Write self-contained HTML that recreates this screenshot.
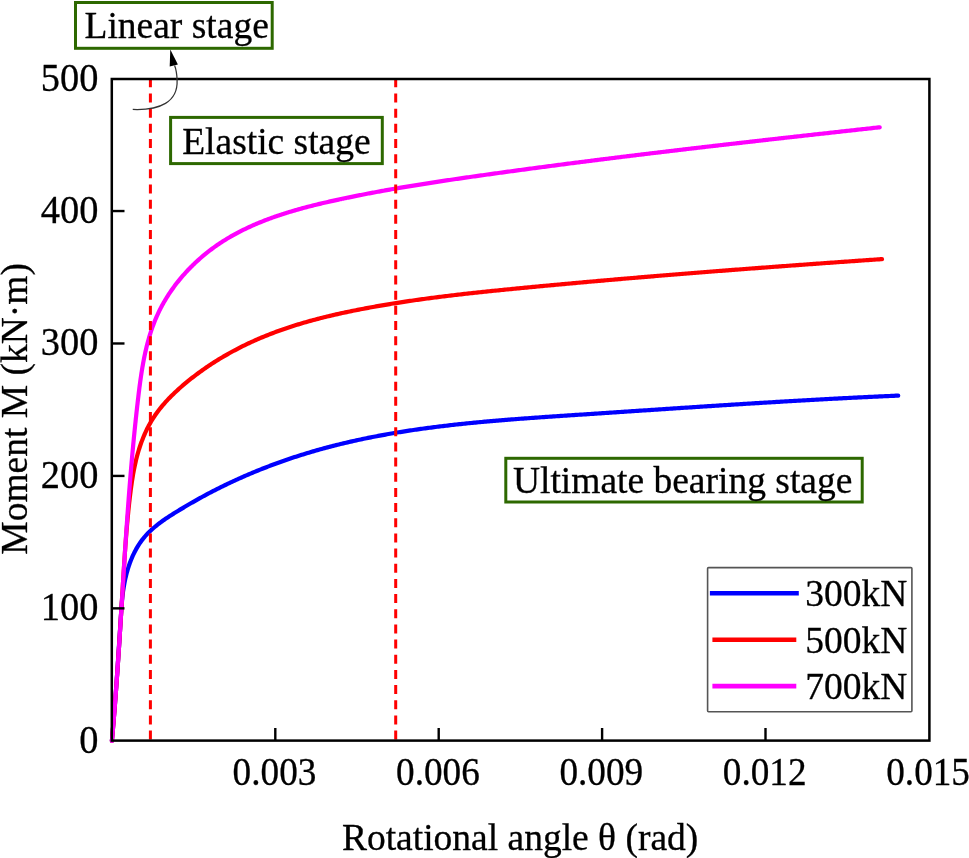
<!DOCTYPE html>
<html><head><meta charset="utf-8"><style>
html,body{margin:0;padding:0;background:#fff;overflow:hidden}
svg{display:block;will-change:transform}
.t{font-family:"Liberation Serif",serif;font-size:37.5px;fill:#000;stroke:#000;stroke-width:0.3px}
.n{font-family:"Liberation Serif",serif;font-size:39px;fill:#000;stroke:#000;stroke-width:0.3px}
</style></head><body>
<svg width="969" height="858" viewBox="0 0 969 858">
<rect x="0" y="0" width="969" height="858" fill="#fff"/>
<path d="M111.89,740.80 L112.00,739.60 L112.11,738.40 L112.22,737.19 L112.32,735.99 L112.43,734.79 L112.53,733.59 L112.64,732.39 L112.74,731.19 L112.85,729.99 L112.95,728.78 L113.05,727.58 L113.15,726.38 L113.26,725.18 L113.36,723.98 L113.46,722.78 L113.56,721.58 L113.66,720.38 L113.76,719.18 L113.85,717.98 L113.95,716.78 L114.05,715.58 L114.15,714.38 L114.24,713.18 L114.34,711.98 L114.44,710.78 L114.53,709.58 L114.63,708.38 L114.72,707.18 L114.81,705.98 L114.91,704.78 L115.00,703.59 L115.09,702.39 L115.18,701.19 L115.28,699.99 L115.37,698.79 L115.46,697.59 L115.55,696.39 L115.64,695.20 L115.73,694.00 L115.82,692.80 L115.91,691.60 L116.00,690.40 L116.08,689.21 L116.17,688.01 L116.26,686.81 L116.35,685.61 L116.43,684.42 L116.52,683.22 L116.61,682.02 L116.69,680.82 L116.78,679.63 L116.86,678.43 L116.97,676.83 L117.09,675.24 L117.20,673.64 L117.31,672.05 L117.42,670.45 L117.53,668.86 L117.64,667.26 L117.75,665.67 L117.86,664.07 L117.96,662.48 L118.07,660.88 L118.18,659.29 L118.29,657.69 L118.39,656.10 L118.50,654.51 L118.60,652.91 L118.71,651.32 L118.81,649.72 L118.92,648.13 L119.02,646.54 L119.13,644.94 L119.23,643.35 L119.33,641.76 L119.43,640.16 L119.54,638.57 L119.64,636.98 L119.74,635.38 L119.84,633.79 L119.94,632.20 L120.04,630.61 L120.14,629.01 L120.24,627.42 L120.34,625.83 L120.44,624.24 L120.54,622.64 L120.64,621.05 L120.74,619.46 L120.84,617.87 L120.94,616.27 L121.04,614.68 L121.14,613.09 L121.24,611.50 L121.34,609.91 L121.44,608.31 L121.53,606.72 L116.44,684.42 L116.54,682.93 L116.64,681.44 L116.74,679.95 L116.84,678.47 L116.94,676.98 L117.05,675.49 L117.15,674.00 L117.25,672.51 L117.36,671.03 L117.46,669.54 L117.57,668.05 L117.67,666.56 L117.78,665.07 L117.88,663.58 L117.99,662.09 L118.09,660.61 L118.19,659.12 L118.30,657.63 L118.40,656.14 L118.50,654.65 L118.61,653.16 L118.71,651.67 L118.81,650.18 L118.91,648.69 L119.01,647.20 L119.10,645.71 L119.20,644.23 L119.30,642.74 L119.39,641.25 L119.49,639.76 L119.58,638.27 L119.67,636.78 L119.76,635.29 L119.85,633.81 L119.94,632.32 L120.02,630.83 L120.11,629.34 L120.19,627.86 L120.28,626.37 L120.37,624.88 L120.45,623.39 L120.54,621.90 L120.63,620.42 L120.72,618.93 L120.81,617.44 L120.91,615.95 L121.00,614.46 L121.10,612.97 L121.20,611.48 L121.30,609.99 L121.41,608.50 L121.52,607.01 L121.63,605.52 L121.75,604.03 L121.87,602.54 L122.00,601.04 L122.14,599.55 L122.29,598.05 L122.45,596.55 L122.62,595.06 L122.81,593.56 L123.00,592.06 L123.21,590.56 L123.43,589.07 L123.67,587.57 L123.91,586.08 L124.18,584.59 L124.45,583.10 L124.74,581.62 L125.04,580.14 L125.36,578.66 L125.70,577.19 L126.05,575.73 L126.41,574.27 L126.79,572.81 L127.19,571.36 L127.60,569.92 L128.03,568.49 L128.48,567.06 L128.95,565.64 L129.43,564.23 L129.93,562.83 L130.45,561.44 L130.99,560.06 L131.55,558.68 L132.12,557.32 L132.72,555.97 L133.34,554.64 L133.97,553.31 L134.63,551.99 L135.31,550.69 L136.00,549.41 L136.73,548.13 L137.47,546.87 L138.23,545.63 L139.02,544.40 L139.83,543.18 L140.66,541.98 L141.51,540.80 L142.39,539.64 L143.29,538.49 L144.22,537.36 L145.17,536.25 L146.15,535.15 L147.14,534.07 L148.16,533.01 L149.21,531.97 L150.27,530.95 L151.35,529.93 L152.45,528.94 L153.57,527.96 L154.71,526.99 L155.86,526.04 L157.03,525.10 L158.21,524.17 L159.40,523.26 L160.61,522.35 L161.83,521.46 L163.06,520.58 L164.30,519.71 L165.55,518.85 L166.81,518.00 L168.07,517.16 L169.35,516.32 L170.62,515.50 L171.91,514.68 L173.19,513.87 L174.48,513.06 L175.77,512.27 L177.06,511.47 L178.36,510.68 L179.65,509.90 L180.94,509.12 L182.23,508.35 L183.52,507.58 L184.81,506.81 L186.10,506.05 L187.39,505.29 L188.67,504.54 L189.96,503.79 L191.25,503.05 L192.54,502.31 L193.83,501.57 L195.13,500.84 L196.42,500.11 L197.71,499.38 L199.00,498.66 L200.30,497.94 L201.60,497.23 L202.90,496.52 L204.20,495.81 L205.50,495.11 L206.80,494.41 L208.11,493.72 L209.42,493.02 L210.73,492.34 L212.05,491.65 L213.36,490.97 L214.68,490.29 L216.01,489.62 L217.33,488.95 L218.66,488.28 L219.99,487.62 L221.32,486.96 L222.65,486.30 L223.99,485.65 L225.33,485.00 L226.67,484.35 L228.01,483.71 L229.36,483.07 L230.70,482.43 L232.05,481.80 L233.40,481.17 L234.76,480.55 L236.11,479.92 L237.47,479.31 L238.83,478.69 L240.19,478.08 L241.56,477.48 L242.92,476.87 L244.29,476.27 L245.66,475.68 L247.03,475.08 L248.41,474.49 L249.78,473.91 L251.16,473.33 L252.54,472.75 L253.92,472.17 L255.30,471.60 L256.69,471.04 L258.07,470.47 L259.46,469.91 L260.85,469.36 L262.24,468.80 L263.63,468.25 L265.02,467.71 L266.42,467.17 L267.82,466.63 L269.21,466.09 L270.61,465.56 L272.01,465.04 L273.42,464.51 L274.82,463.99 L276.22,463.48 L277.63,462.97 L279.04,462.46 L280.44,461.95 L281.85,461.45 L283.27,460.95 L284.68,460.46 L286.09,459.97 L287.50,459.48 L288.92,459.00 L290.34,458.52 L291.75,458.05 L293.17,457.58 L294.59,457.11 L296.01,456.64 L297.43,456.18 L298.85,455.73 L300.28,455.28 L301.70,454.83 L303.13,454.38 L304.55,453.94 L305.98,453.50 L307.40,453.07 L308.83,452.64 L310.26,452.21 L311.69,451.79 L313.12,451.37 L314.55,450.96 L315.98,450.54 L317.41,450.13 L318.85,449.73 L320.28,449.33 L321.72,448.93 L323.15,448.54 L324.59,448.14 L326.03,447.76 L327.46,447.37 L328.90,446.99 L330.34,446.61 L331.78,446.24 L333.22,445.87 L334.66,445.50 L336.11,445.14 L337.55,444.78 L338.99,444.42 L340.44,444.06 L341.88,443.71 L343.33,443.36 L344.77,443.02 L346.22,442.68 L347.67,442.34 L349.12,442.00 L350.56,441.67 L352.01,441.34 L353.46,441.01 L354.91,440.69 L356.37,440.37 L357.82,440.05 L359.27,439.74 L360.72,439.43 L362.18,439.12 L363.63,438.81 L365.09,438.51 L366.54,438.21 L368.00,437.91 L369.46,437.62 L370.92,437.33 L372.37,437.04 L373.83,436.75 L375.29,436.47 L376.75,436.19 L378.21,435.91 L379.67,435.64 L381.13,435.37 L382.60,435.10 L384.06,434.83 L385.52,434.56 L386.99,434.30 L388.45,434.04 L389.92,433.79 L391.38,433.53 L392.85,433.28 L394.31,433.03 L395.78,432.78 L397.25,432.54 L398.72,432.30 L400.18,432.06 L401.65,431.82 L403.12,431.59 L404.59,431.35 L406.06,431.12 L407.53,430.90 L409.00,430.67 L410.48,430.45 L411.95,430.23 L413.42,430.01 L414.89,429.79 L416.37,429.58 L417.84,429.36 L419.32,429.15 L420.79,428.94 L422.27,428.74 L423.74,428.53 L425.22,428.33 L426.69,428.13 L428.17,427.93 L429.65,427.74 L431.13,427.55 L432.60,427.35 L434.08,427.16 L435.56,426.98 L437.04,426.79 L438.52,426.60 L440.00,426.42 L441.48,426.24 L442.96,426.06 L444.44,425.89 L445.92,425.71 L447.40,425.54 L448.89,425.37 L450.37,425.20 L451.85,425.03 L453.33,424.86 L454.82,424.70 L456.30,424.53 L457.78,424.37 L459.27,424.21 L460.75,424.05 L462.24,423.90 L463.72,423.74 L465.21,423.59 L466.69,423.43 L468.18,423.28 L469.66,423.13 L471.15,422.98 L472.64,422.84 L474.12,422.69 L475.61,422.55 L477.10,422.41 L478.58,422.26 L480.07,422.12 L481.56,421.99 L483.05,421.85 L484.54,421.71 L486.02,421.58 L487.51,421.44 L489.00,421.31 L490.49,421.18 L491.98,421.05 L493.47,420.92 L494.96,420.79 L496.45,420.67 L497.94,420.54 L499.43,420.42 L500.92,420.29 L502.41,420.17 L503.90,420.05 L505.39,419.93 L506.88,419.81 L508.37,419.69 L509.86,419.57 L511.36,419.45 L512.85,419.34 L514.34,419.22 L515.83,419.11 L517.32,418.99 L518.81,418.88 L520.30,418.77 L521.80,418.66 L523.29,418.55 L524.78,418.44 L526.27,418.33 L527.76,418.22 L529.26,418.11 L530.75,418.00 L532.24,417.90 L533.73,417.79 L535.23,417.68 L536.72,417.58 L538.21,417.47 L539.70,417.37 L541.20,417.27 L542.69,417.16 L544.18,417.06 L545.67,416.96 L547.17,416.86 L548.66,416.75 L550.15,416.65 L551.64,416.55 L553.14,416.45 L554.63,416.35 L556.12,416.25 L557.61,416.15 L559.11,416.05 L560.60,415.95 L562.09,415.85 L563.58,415.76 L565.08,415.66 L566.57,415.56 L568.06,415.46 L569.55,415.36 L571.04,415.26 L572.54,415.17 L574.03,415.07 L575.52,414.97 L577.01,414.87 L578.50,414.77 L579.99,414.68 L581.49,414.58 L582.98,414.48 L584.47,414.38 L585.96,414.28 L587.45,414.18 L588.94,414.09 L590.43,413.99 L591.92,413.89 L593.41,413.79 L594.90,413.69 L596.39,413.59 L597.88,413.49 L599.37,413.40 L600.86,413.30 L602.35,413.20 L603.84,413.10 L605.33,413.00 L606.82,412.90 L608.31,412.80 L609.80,412.70 L611.29,412.60 L612.78,412.51 L614.27,412.41 L615.76,412.31 L617.25,412.21 L618.74,412.11 L620.22,412.01 L621.71,411.91 L623.20,411.81 L624.69,411.71 L626.18,411.61 L627.67,411.51 L629.15,411.42 L630.64,411.32 L632.13,411.22 L633.62,411.12 L635.11,411.02 L636.60,410.92 L638.08,410.82 L639.57,410.72 L641.06,410.62 L642.55,410.52 L644.03,410.43 L645.52,410.33 L647.01,410.23 L648.50,410.13 L649.98,410.03 L651.47,409.93 L652.96,409.83 L654.45,409.73 L655.93,409.64 L657.42,409.54 L658.91,409.44 L660.40,409.34 L661.88,409.24 L663.37,409.14 L664.86,409.04 L666.34,408.95 L667.83,408.85 L669.32,408.75 L670.80,408.65 L672.29,408.55 L673.78,408.45 L675.26,408.36 L676.75,408.26 L678.24,408.16 L679.72,408.06 L681.21,407.97 L682.70,407.87 L684.18,407.77 L685.67,407.67 L687.16,407.58 L688.64,407.48 L690.13,407.38 L691.62,407.28 L693.10,407.19 L694.59,407.09 L696.07,406.99 L697.56,406.90 L699.05,406.80 L700.53,406.70 L702.02,406.61 L703.51,406.51 L704.99,406.41 L706.48,406.32 L707.96,406.22 L709.45,406.13 L710.94,406.03 L712.42,405.94 L713.91,405.84 L715.40,405.74 L716.88,405.65 L718.37,405.55 L719.85,405.46 L721.34,405.36 L722.83,405.27 L724.31,405.17 L725.80,405.08 L727.28,404.99 L728.77,404.89 L730.26,404.80 L731.74,404.70 L733.23,404.61 L734.72,404.52 L736.20,404.42 L737.69,404.33 L739.17,404.24 L740.66,404.14 L742.15,404.05 L743.63,403.96 L745.12,403.86 L746.61,403.77 L748.09,403.68 L749.58,403.59 L751.07,403.50 L752.55,403.40 L754.04,403.31 L755.53,403.22 L757.01,403.13 L758.50,403.04 L759.99,402.95 L761.47,402.86 L762.96,402.77 L764.45,402.68 L765.93,402.59 L767.42,402.50 L768.91,402.41 L770.39,402.32 L771.88,402.23 L773.37,402.14 L774.86,402.05 L776.34,401.96 L777.83,401.87 L779.32,401.79 L780.80,401.70 L782.29,401.61 L783.78,401.52 L785.27,401.44 L786.75,401.35 L788.24,401.26 L789.73,401.17 L791.22,401.09 L792.71,401.00 L794.19,400.92 L795.68,400.83 L797.17,400.74 L798.66,400.66 L800.15,400.57 L801.63,400.49 L803.12,400.40 L804.61,400.32 L806.10,400.24 L807.59,400.15 L809.08,400.07 L810.56,399.99 L812.05,399.90 L813.54,399.82 L815.03,399.74 L816.52,399.65 L818.01,399.57 L819.50,399.49 L820.99,399.41 L822.48,399.33 L823.97,399.25 L825.46,399.17 L826.94,399.09 L828.43,399.01 L829.92,398.93 L831.41,398.85 L832.90,398.77 L834.39,398.69 L835.88,398.61 L837.37,398.53 L838.87,398.45 L840.36,398.37 L841.85,398.30 L843.34,398.22 L844.83,398.14 L846.32,398.07 L847.81,397.99 L849.30,397.91 L850.79,397.84 L852.28,397.76 L853.77,397.69 L855.27,397.61 L856.76,397.54 L858.25,397.46 L859.74,397.39 L861.23,397.32 L862.73,397.24 L864.22,397.17 L865.71,397.10 L867.20,397.03 L868.69,396.95 L870.19,396.88 L871.68,396.81 L873.17,396.74 L874.67,396.67 L876.16,396.60 L877.65,396.53 L879.15,396.46 L880.64,396.39 L882.13,396.32 L883.63,396.25 L885.12,396.18 L886.62,396.12 L888.11,396.05 L889.61,395.98 L891.10,395.92 L892.59,395.85 L894.09,395.78 L895.58,395.72 L897.08,395.65 L898.20,395.60" fill="none" stroke="#0000ff" stroke-width="4.2" stroke-linecap="round" stroke-linejoin="round"/>
<path d="M111.89,740.80 L112.00,739.60 L112.11,738.40 L112.22,737.19 L112.32,735.99 L112.43,734.79 L112.53,733.59 L112.64,732.39 L112.74,731.19 L112.85,729.99 L112.95,728.78 L113.05,727.58 L113.15,726.38 L113.26,725.18 L113.36,723.98 L113.46,722.78 L113.56,721.58 L113.66,720.38 L113.76,719.18 L113.85,717.98 L113.95,716.78 L114.05,715.58 L114.15,714.38 L114.24,713.18 L114.34,711.98 L114.44,710.78 L114.53,709.58 L114.63,708.38 L114.72,707.18 L114.81,705.98 L114.91,704.78 L115.00,703.59 L115.09,702.39 L115.18,701.19 L115.28,699.99 L115.37,698.79 L115.46,697.59 L115.55,696.39 L115.64,695.20 L115.73,694.00 L115.82,692.80 L115.91,691.60 L116.00,690.40 L116.08,689.21 L116.17,688.01 L116.26,686.81 L116.35,685.61 L116.43,684.42 L116.52,683.22 L116.61,682.02 L116.69,680.82 L116.78,679.63 L116.86,678.43 L116.97,676.83 L117.09,675.24 L117.20,673.64 L117.31,672.05 L117.42,670.45 L117.53,668.86 L117.64,667.26 L117.75,665.67 L117.86,664.07 L117.96,662.48 L118.07,660.88 L118.18,659.29 L118.29,657.69 L118.39,656.10 L118.50,654.51 L118.60,652.91 L118.71,651.32 L118.81,649.72 L118.92,648.13 L119.02,646.54 L119.13,644.94 L119.23,643.35 L119.33,641.76 L119.43,640.16 L119.54,638.57 L119.64,636.98 L119.74,635.38 L119.84,633.79 L119.94,632.20 L120.04,630.61 L120.14,629.01 L120.24,627.42 L120.34,625.83 L120.44,624.24 L120.54,622.64 L120.64,621.05 L120.74,619.46 L120.84,617.87 L120.94,616.27 L121.04,614.68 L121.14,613.09 L121.24,611.50 L121.34,609.91 L121.44,608.31 L121.53,606.72 L121.63,605.13 L121.73,603.54 L121.83,601.95 L121.93,600.36 L122.03,598.76 L122.12,597.17 L122.22,595.58 L122.32,593.99 L122.42,592.40 L122.52,590.81 L122.62,589.21 L122.71,587.62 L122.81,586.03 L122.91,584.44 L123.01,582.85 L123.11,581.26 L123.21,579.67 L123.31,578.07 L123.41,576.48 L123.51,574.89 L123.60,573.30 L123.70,571.71 L123.80,570.12 L123.90,568.53 L124.00,566.93 L124.11,565.34 L124.21,563.75 L124.31,562.16 L124.41,560.57 L124.51,558.98 L124.61,557.38 L124.71,555.79 L124.82,554.20 L124.92,552.61 L125.02,551.02 L125.13,549.43 L120.23,627.42 L120.34,625.86 L120.44,624.30 L120.54,622.73 L120.65,621.17 L120.75,619.61 L120.85,618.05 L120.95,616.49 L121.05,614.92 L121.14,613.36 L121.24,611.80 L121.34,610.24 L121.43,608.67 L121.53,607.11 L121.63,605.55 L121.72,603.99 L121.82,602.42 L121.91,600.86 L122.01,599.30 L122.10,597.73 L122.19,596.17 L122.29,594.61 L122.38,593.05 L122.47,591.48 L122.57,589.92 L122.66,588.36 L122.76,586.80 L122.85,585.23 L122.94,583.67 L123.04,582.11 L123.13,580.54 L123.23,578.98 L123.32,577.42 L123.42,575.86 L123.52,574.29 L123.61,572.73 L123.71,571.17 L123.81,569.61 L123.91,568.04 L124.01,566.48 L124.11,564.92 L124.21,563.36 L124.31,561.80 L124.41,560.23 L124.52,558.67 L124.62,557.11 L124.73,555.55 L124.83,553.99 L124.94,552.43 L125.05,550.86 L125.16,549.30 L125.27,547.74 L125.38,546.18 L125.50,544.62 L125.61,543.06 L125.73,541.50 L125.85,539.94 L125.96,538.38 L126.09,536.82 L126.21,535.26 L126.33,533.70 L126.46,532.14 L126.59,530.58 L126.72,529.02 L126.85,527.46 L126.98,525.90 L127.11,524.34 L127.25,522.78 L127.39,521.23 L127.53,519.67 L127.67,518.11 L127.82,516.55 L127.97,514.99 L128.12,513.44 L128.27,511.88 L128.42,510.32 L128.58,508.76 L128.74,507.21 L128.91,505.65 L129.07,504.09 L129.24,502.53 L129.42,500.98 L129.60,499.42 L129.78,497.86 L129.96,496.31 L130.15,494.75 L130.35,493.19 L130.54,491.63 L130.74,490.07 L130.95,488.52 L131.16,486.96 L131.38,485.40 L131.60,483.84 L131.83,482.29 L132.06,480.73 L132.31,479.17 L132.56,477.62 L132.81,476.07 L133.08,474.51 L133.36,472.96 L133.64,471.41 L133.93,469.86 L134.24,468.32 L134.55,466.78 L134.88,465.23 L135.22,463.69 L135.57,462.16 L135.93,460.63 L136.30,459.10 L136.69,457.57 L137.09,456.05 L137.50,454.53 L137.92,453.01 L138.36,451.51 L138.81,450.00 L139.28,448.50 L139.76,447.01 L140.26,445.53 L140.77,444.05 L141.29,442.57 L141.83,441.11 L142.39,439.65 L142.96,438.20 L143.54,436.76 L144.15,435.32 L144.77,433.90 L145.40,432.48 L146.06,431.07 L146.73,429.67 L147.41,428.28 L148.12,426.91 L148.84,425.54 L149.58,424.18 L150.34,422.84 L151.12,421.50 L151.91,420.18 L152.73,418.87 L153.56,417.57 L154.41,416.29 L155.28,415.01 L156.17,413.75 L157.07,412.50 L157.99,411.26 L158.93,410.03 L159.88,408.81 L160.85,407.60 L161.83,406.41 L162.83,405.22 L163.84,404.04 L164.86,402.88 L165.90,401.72 L166.95,400.57 L168.02,399.43 L169.09,398.31 L170.18,397.19 L171.28,396.08 L172.39,394.98 L173.51,393.89 L174.64,392.81 L175.78,391.73 L176.93,390.67 L178.09,389.61 L179.25,388.56 L180.43,387.52 L181.61,386.48 L182.80,385.46 L183.99,384.44 L185.20,383.43 L186.41,382.42 L187.62,381.43 L188.84,380.44 L190.07,379.46 L191.30,378.48 L192.54,377.51 L193.78,376.55 L195.03,375.60 L196.28,374.65 L197.54,373.71 L198.80,372.78 L200.07,371.85 L201.35,370.93 L202.63,370.02 L203.92,369.12 L205.21,368.22 L206.50,367.33 L207.80,366.45 L209.11,365.57 L210.42,364.70 L211.73,363.84 L213.05,362.99 L214.37,362.14 L215.70,361.30 L217.03,360.47 L218.37,359.64 L219.71,358.82 L221.06,358.01 L222.41,357.21 L223.76,356.41 L225.12,355.62 L226.48,354.84 L227.84,354.06 L229.21,353.29 L230.59,352.53 L231.96,351.77 L233.34,351.02 L234.73,350.28 L236.11,349.55 L237.51,348.82 L238.90,348.10 L240.30,347.39 L241.70,346.68 L243.10,345.98 L244.51,345.29 L245.92,344.61 L247.33,343.93 L248.75,343.26 L250.17,342.60 L251.59,341.94 L253.02,341.29 L254.44,340.65 L255.87,340.01 L257.30,339.38 L258.74,338.76 L260.18,338.15 L261.62,337.54 L263.06,336.94 L264.50,336.35 L265.95,335.76 L267.40,335.18 L268.85,334.60 L270.31,334.03 L271.76,333.47 L273.22,332.92 L274.68,332.37 L276.15,331.82 L277.61,331.29 L279.08,330.76 L280.55,330.23 L282.02,329.71 L283.49,329.20 L284.97,328.69 L286.44,328.19 L287.92,327.69 L289.40,327.20 L290.89,326.72 L292.37,326.24 L293.86,325.76 L295.35,325.29 L296.84,324.83 L298.33,324.37 L299.82,323.92 L301.32,323.47 L302.81,323.03 L304.31,322.59 L305.81,322.16 L307.31,321.73 L308.82,321.30 L310.32,320.88 L311.83,320.47 L313.33,320.06 L314.84,319.66 L316.35,319.25 L317.86,318.86 L319.38,318.47 L320.89,318.08 L322.41,317.70 L323.92,317.32 L325.44,316.94 L326.96,316.57 L328.48,316.20 L330.00,315.84 L331.52,315.48 L333.04,315.12 L334.57,314.77 L336.09,314.42 L337.62,314.08 L339.14,313.73 L340.67,313.40 L342.20,313.06 L343.73,312.73 L345.26,312.40 L346.79,312.08 L348.32,311.75 L349.85,311.44 L351.39,311.12 L352.92,310.81 L354.45,310.50 L355.99,310.19 L357.52,309.88 L359.06,309.58 L360.59,309.28 L362.13,308.99 L363.67,308.69 L365.20,308.40 L366.74,308.11 L368.28,307.82 L369.82,307.54 L371.36,307.26 L372.90,306.98 L374.44,306.70 L375.98,306.43 L377.52,306.15 L379.06,305.88 L380.60,305.62 L382.14,305.35 L383.68,305.09 L385.23,304.83 L386.77,304.57 L388.31,304.31 L389.86,304.06 L391.40,303.80 L392.95,303.55 L394.49,303.31 L396.04,303.06 L397.58,302.82 L399.13,302.57 L400.67,302.33 L402.22,302.10 L403.77,301.86 L405.31,301.63 L406.86,301.39 L408.41,301.16 L409.96,300.94 L411.51,300.71 L413.06,300.49 L414.60,300.26 L416.15,300.04 L417.70,299.82 L419.25,299.60 L420.80,299.39 L422.35,299.17 L423.91,298.96 L425.46,298.75 L427.01,298.54 L428.56,298.33 L430.11,298.13 L431.66,297.92 L433.22,297.72 L434.77,297.52 L436.32,297.32 L437.87,297.12 L439.43,296.93 L440.98,296.73 L442.53,296.54 L444.09,296.34 L445.64,296.15 L447.20,295.96 L448.75,295.77 L450.31,295.59 L451.86,295.40 L453.42,295.22 L454.97,295.03 L456.53,294.85 L458.08,294.67 L459.64,294.49 L461.20,294.31 L462.75,294.13 L464.31,293.96 L465.86,293.78 L467.42,293.61 L468.98,293.43 L470.54,293.26 L472.09,293.09 L473.65,292.92 L475.21,292.75 L476.76,292.58 L478.32,292.41 L479.88,292.25 L481.44,292.08 L483.00,291.92 L484.55,291.75 L486.11,291.59 L487.67,291.43 L489.23,291.26 L490.79,291.10 L492.35,290.94 L493.90,290.78 L495.46,290.63 L497.02,290.47 L498.58,290.31 L500.14,290.15 L501.70,290.00 L503.26,289.84 L504.82,289.68 L506.37,289.53 L507.93,289.37 L509.49,289.22 L511.05,289.07 L512.61,288.91 L514.17,288.76 L515.73,288.61 L517.29,288.46 L518.85,288.31 L520.41,288.15 L521.97,288.00 L523.52,287.85 L525.08,287.70 L526.64,287.55 L528.20,287.40 L529.76,287.25 L531.32,287.10 L532.88,286.95 L534.44,286.81 L536.00,286.66 L537.56,286.51 L539.12,286.36 L540.68,286.21 L542.23,286.07 L543.79,285.92 L545.35,285.77 L546.91,285.63 L548.47,285.48 L550.03,285.34 L551.59,285.19 L553.15,285.05 L554.71,284.90 L556.27,284.76 L557.83,284.61 L559.39,284.47 L560.94,284.32 L562.50,284.18 L564.06,284.04 L565.62,283.89 L567.18,283.75 L568.74,283.61 L570.30,283.47 L571.86,283.32 L573.42,283.18 L574.98,283.04 L576.54,282.90 L578.09,282.76 L579.65,282.62 L581.21,282.48 L582.77,282.34 L584.33,282.20 L585.89,282.06 L587.45,281.92 L589.01,281.78 L590.57,281.64 L592.13,281.50 L593.69,281.36 L595.25,281.23 L596.81,281.09 L598.36,280.95 L599.92,280.81 L601.48,280.68 L603.04,280.54 L604.60,280.40 L606.16,280.27 L607.72,280.13 L609.28,280.00 L610.84,279.86 L612.40,279.72 L613.96,279.59 L615.52,279.45 L617.08,279.32 L618.63,279.19 L620.19,279.05 L621.75,278.92 L623.31,278.78 L624.87,278.65 L626.43,278.52 L627.99,278.38 L629.55,278.25 L631.11,278.12 L632.67,277.99 L634.23,277.85 L635.79,277.72 L637.35,277.59 L638.91,277.46 L640.47,277.33 L642.02,277.20 L643.58,277.07 L645.14,276.94 L646.70,276.81 L648.26,276.68 L649.82,276.55 L651.38,276.42 L652.94,276.29 L654.50,276.16 L656.06,276.03 L657.62,275.90 L659.18,275.77 L660.74,275.64 L662.30,275.52 L663.86,275.39 L665.42,275.26 L666.98,275.13 L668.54,275.01 L670.10,274.88 L671.66,274.75 L673.22,274.62 L674.77,274.50 L676.33,274.37 L677.89,274.25 L679.45,274.12 L681.01,273.99 L682.57,273.87 L684.13,273.74 L685.69,273.62 L687.25,273.49 L688.81,273.37 L690.37,273.24 L691.93,273.12 L693.49,273.00 L695.05,272.87 L696.61,272.75 L698.17,272.62 L699.73,272.50 L701.29,272.38 L702.85,272.25 L704.41,272.13 L705.97,272.01 L707.53,271.89 L709.09,271.76 L710.65,271.64 L712.21,271.52 L713.77,271.40 L715.33,271.28 L716.89,271.16 L718.45,271.03 L720.01,270.91 L721.57,270.79 L723.13,270.67 L724.69,270.55 L726.25,270.43 L727.81,270.31 L729.37,270.19 L730.93,270.07 L732.49,269.95 L734.05,269.83 L735.61,269.71 L737.17,269.59 L738.73,269.47 L740.29,269.35 L741.85,269.24 L743.41,269.12 L744.98,269.00 L746.54,268.88 L748.10,268.76 L749.66,268.64 L751.22,268.53 L752.78,268.41 L754.34,268.29 L755.90,268.17 L757.46,268.06 L759.02,267.94 L760.58,267.82 L762.14,267.71 L763.70,267.59 L765.26,267.47 L766.82,267.36 L768.38,267.24 L769.94,267.12 L771.51,267.01 L773.07,266.89 L774.63,266.78 L776.19,266.66 L777.75,266.55 L779.31,266.43 L780.87,266.32 L782.43,266.20 L783.99,266.09 L785.55,265.97 L787.11,265.86 L788.68,265.74 L790.24,265.63 L791.80,265.51 L793.36,265.40 L794.92,265.29 L796.48,265.17 L798.04,265.06 L799.60,264.94 L801.16,264.83 L802.73,264.72 L804.29,264.60 L805.85,264.49 L807.41,264.38 L808.97,264.27 L810.53,264.15 L812.09,264.04 L813.66,263.93 L815.22,263.82 L816.78,263.70 L818.34,263.59 L819.90,263.48 L821.46,263.37 L823.03,263.25 L824.59,263.14 L826.15,263.03 L827.71,262.92 L829.27,262.81 L830.83,262.70 L832.40,262.59 L833.96,262.47 L835.52,262.36 L837.08,262.25 L838.64,262.14 L840.21,262.03 L841.77,261.92 L843.33,261.81 L844.89,261.70 L846.45,261.59 L848.02,261.48 L849.58,261.37 L851.14,261.26 L852.70,261.15 L854.26,261.04 L855.83,260.93 L857.39,260.82 L858.95,260.71 L860.51,260.60 L862.08,260.49 L863.64,260.38 L865.20,260.27 L866.76,260.16 L868.33,260.05 L869.89,259.94 L871.45,259.83 L873.01,259.73 L874.58,259.62 L876.14,259.51 L877.70,259.40 L879.27,259.29 L880.83,259.18 L882.00,259.10" fill="none" stroke="#ff0000" stroke-width="4.2" stroke-linecap="round" stroke-linejoin="round"/>
<path d="M111.89,740.80 L112.00,739.60 L112.11,738.40 L112.22,737.19 L112.32,735.99 L112.43,734.79 L112.53,733.59 L112.64,732.39 L112.74,731.19 L112.85,729.99 L112.95,728.78 L113.05,727.58 L113.15,726.38 L113.26,725.18 L113.36,723.98 L113.46,722.78 L113.56,721.58 L113.66,720.38 L113.76,719.18 L113.85,717.98 L113.95,716.78 L114.05,715.58 L114.15,714.38 L114.24,713.18 L114.34,711.98 L114.44,710.78 L114.53,709.58 L114.63,708.38 L114.72,707.18 L114.81,705.98 L114.91,704.78 L115.00,703.59 L115.09,702.39 L115.18,701.19 L115.28,699.99 L115.37,698.79 L115.46,697.59 L115.55,696.39 L115.64,695.20 L115.73,694.00 L115.82,692.80 L115.91,691.60 L116.00,690.40 L116.08,689.21 L116.17,688.01 L116.26,686.81 L116.35,685.61 L116.43,684.42 L116.52,683.22 L116.61,682.02 L116.69,680.82 L116.78,679.63 L116.86,678.43 L116.97,676.83 L117.09,675.24 L117.20,673.64 L117.31,672.05 L117.42,670.45 L117.53,668.86 L117.64,667.26 L117.75,665.67 L117.86,664.07 L117.96,662.48 L118.07,660.88 L118.18,659.29 L118.29,657.69 L118.39,656.10 L118.50,654.51 L118.60,652.91 L118.71,651.32 L118.81,649.72 L118.92,648.13 L119.02,646.54 L119.13,644.94 L119.23,643.35 L119.33,641.76 L119.43,640.16 L119.54,638.57 L119.64,636.98 L119.74,635.38 L119.84,633.79 L119.94,632.20 L120.04,630.61 L120.14,629.01 L120.24,627.42 L120.34,625.83 L120.44,624.24 L120.54,622.64 L120.64,621.05 L120.74,619.46 L120.84,617.87 L120.94,616.27 L121.04,614.68 L121.14,613.09 L121.24,611.50 L121.34,609.91 L121.44,608.31 L121.53,606.72 L121.63,605.13 L121.73,603.54 L121.83,601.95 L121.93,600.36 L122.03,598.76 L122.12,597.17 L122.22,595.58 L122.32,593.99 L122.42,592.40 L122.52,590.81 L122.62,589.21 L122.71,587.62 L122.81,586.03 L122.91,584.44 L123.01,582.85 L123.11,581.26 L123.21,579.67 L123.31,578.07 L123.41,576.48 L123.51,574.89 L123.60,573.30 L123.70,571.71 L123.80,570.12 L123.90,568.53 L124.00,566.93 L124.11,565.34 L124.21,563.75 L124.31,562.16 L124.41,560.57 L124.51,558.98 L124.61,557.38 L124.71,555.79 L124.82,554.20 L124.92,552.61 L125.02,551.02 L125.13,549.43 L125.23,547.83 L125.33,546.24 L125.44,544.65 L125.54,543.06 L125.65,541.47 L125.75,539.88 L125.86,538.28 L125.97,536.69 L126.07,535.10 L126.18,533.51 L126.29,531.91 L126.40,530.32 L126.51,528.73 L126.62,527.14 L126.73,525.55 L126.84,523.95 L126.95,522.36 L127.06,520.77 L127.17,519.17 L127.28,517.58 L127.40,515.99 L127.51,514.40 L127.62,512.80 L127.74,511.21 L127.85,509.62 L127.97,508.02 L128.09,506.43 L128.21,504.84 L128.32,503.24 L128.44,501.65 L128.56,500.05 L128.68,498.46 L128.80,496.87 L128.93,495.27 L129.05,493.68 L129.17,492.08 L129.30,490.49 L129.42,488.89 L129.55,487.30 L129.67,485.70 L129.77,484.51 L129.86,483.31 L129.96,482.12 L130.06,480.92 L130.15,479.72 L130.25,478.53 L130.35,477.33 L130.45,476.13 L130.55,474.94 L130.65,473.74 L130.75,472.54 L130.85,471.34 L130.95,470.15 L131.05,468.95 L131.15,467.75 L131.26,466.56 L131.36,465.36 L131.46,464.16 L131.57,462.96 L131.67,461.76 L131.78,460.57 L131.88,459.37 L131.99,458.17 L132.10,456.97 L132.21,455.77 L132.31,454.58 L132.42,453.38 L132.53,452.18 L132.64,450.98 L132.75,449.78 L132.86,448.58 L132.98,447.38 L133.09,446.19 L133.20,444.99 L133.32,443.79 L133.43,442.59 L133.55,441.39 L133.66,440.19 L133.78,438.99 L133.89,437.79 L134.01,436.59 L134.13,435.39 L134.25,434.19 L134.37,432.99 L134.49,431.79 L134.61,430.59 L134.73,429.39 L134.85,428.19 L134.98,426.99 L135.10,425.79 L135.23,424.59 L135.35,423.38 L135.48,422.18 L135.60,420.98 L135.73,419.78 L135.86,418.58 L135.99,417.38 L136.12,416.18 L136.25,414.97 L136.38,413.77 L136.51,412.57 L136.64,411.37 L136.77,410.16 L136.91,408.96 L137.04,407.76 L137.18,406.56 L137.31,405.35 L137.45,404.15 L137.59,402.95 L137.73,401.74 L137.87,400.54 L138.01,399.34 L138.15,398.13 L138.29,396.93 L138.43,395.73 L138.58,394.52 L138.72,393.32 L138.87,392.11 L139.02,390.91 L139.17,389.71 L139.32,388.51 L139.47,387.30 L139.63,386.10 L139.79,384.90 L139.95,383.70 L140.11,382.50 L140.27,381.30 L140.44,380.10 L140.61,378.90 L140.78,377.70 L140.96,376.51 L141.14,375.31 L141.32,374.11 L141.50,372.92 L141.69,371.73 L141.88,370.53 L142.07,369.34 L142.27,368.15 L142.47,366.97 L142.68,365.78 L142.89,364.59 L143.10,363.41 L143.32,362.22 L143.54,361.04 L143.76,359.86 L143.99,358.68 L144.23,357.51 L144.55,355.94 L144.88,354.38 L145.22,352.82 L145.56,351.26 L145.92,349.71 L146.28,348.16 L146.66,346.61 L147.05,345.07 L147.44,343.53 L147.85,342.00 L148.27,340.47 L148.69,338.94 L149.13,337.42 L149.59,335.90 L150.05,334.39 L150.52,332.89 L151.01,331.38 L151.51,329.89 L152.03,328.40 L152.55,326.91 L153.09,325.43 L153.65,323.95 L154.22,322.48 L154.80,321.02 L155.40,319.56 L156.01,318.11 L156.63,316.67 L157.27,315.23 L157.93,313.79 L158.60,312.37 L159.29,310.95 L160.00,309.54 L160.71,308.13 L161.45,306.73 L162.19,305.34 L162.95,303.95 L163.73,302.58 L164.52,301.20 L165.33,299.84 L166.14,298.49 L166.98,297.14 L167.82,295.80 L168.68,294.46 L169.55,293.14 L170.44,291.82 L171.34,290.51 L172.25,289.21 L173.17,287.92 L174.11,286.63 L175.06,285.36 L176.02,284.09 L177.00,282.83 L177.98,281.58 L178.98,280.34 L179.99,279.10 L181.01,277.88 L182.04,276.66 L183.09,275.46 L184.14,274.26 L185.21,273.07 L186.28,271.89 L187.37,270.72 L188.47,269.57 L189.58,268.42 L190.69,267.28 L191.82,266.15 L192.96,265.03 L194.11,263.91 L195.27,262.81 L196.43,261.72 L197.61,260.65 L198.80,259.58 L199.99,258.52 L201.19,257.47 L202.41,256.43 L203.63,255.40 L204.86,254.39 L206.09,253.38 L207.34,252.39 L208.59,251.41 L209.86,250.43 L211.12,249.47 L212.40,248.52 L213.69,247.59 L214.98,246.66 L216.28,245.75 L217.58,244.84 L218.89,243.95 L220.21,243.07 L221.54,242.20 L222.87,241.34 L224.21,240.50 L225.56,239.66 L226.91,238.83 L228.27,238.02 L229.64,237.21 L231.01,236.42 L232.38,235.63 L233.77,234.86 L235.16,234.10 L236.55,233.34 L237.95,232.60 L239.36,231.86 L240.77,231.14 L242.19,230.42 L243.61,229.71 L245.04,229.02 L246.47,228.33 L247.91,227.65 L249.35,226.98 L250.80,226.32 L252.26,225.67 L253.71,225.02 L255.18,224.39 L256.64,223.76 L258.11,223.14 L259.59,222.53 L261.07,221.93 L262.55,221.33 L264.04,220.75 L265.16,220.31 L266.28,219.88 L267.41,219.45 L268.53,219.03 L269.66,218.61 L270.79,218.20 L271.92,217.79 L273.05,217.38 L274.19,216.98 L275.33,216.58 L276.47,216.19 L277.61,215.79 L278.75,215.41 L279.90,215.02 L281.04,214.65 L282.19,214.27 L283.34,213.90 L284.49,213.53 L285.65,213.16 L286.80,212.80 L287.96,212.44 L289.12,212.09 L290.28,211.74 L291.44,211.39 L292.60,211.04 L293.76,210.70 L294.93,210.36 L296.09,210.02 L297.26,209.69 L298.43,209.36 L299.60,209.03 L300.77,208.71 L301.94,208.39 L303.11,208.07 L304.29,207.75 L305.46,207.44 L306.64,207.13 L307.81,206.82 L308.99,206.52 L310.17,206.22 L311.35,205.92 L312.53,205.62 L313.71,205.32 L314.89,205.03 L316.07,204.74 L317.25,204.45 L318.43,204.16 L319.62,203.88 L320.80,203.60 L321.99,203.32 L323.17,203.04 L324.35,202.76 L325.54,202.49 L326.73,202.21 L327.91,201.94 L329.10,201.67 L330.28,201.41 L331.47,201.14 L332.66,200.88 L333.84,200.61 L335.03,200.35 L336.21,200.09 L337.40,199.84 L338.59,199.58 L339.77,199.32 L340.96,199.07 L342.14,198.82 L343.33,198.57 L344.51,198.32 L345.70,198.07 L346.88,197.82 L348.07,197.57 L349.25,197.33 L350.44,197.08 L351.62,196.84 L352.81,196.60 L353.99,196.36 L355.17,196.12 L356.36,195.88 L357.54,195.65 L358.72,195.41 L359.91,195.17 L361.09,194.94 L362.27,194.71 L363.46,194.48 L364.64,194.25 L365.82,194.02 L367.00,193.79 L368.19,193.56 L369.37,193.34 L370.55,193.11 L371.73,192.89 L372.91,192.67 L374.10,192.44 L375.28,192.22 L376.46,192.00 L377.64,191.78 L378.82,191.57 L380.00,191.35 L381.18,191.13 L382.37,190.92 L383.55,190.71 L385.12,190.42 L386.69,190.14 L388.27,189.86 L389.84,189.58 L391.42,189.30 L392.99,189.03 L394.56,188.75 L396.14,188.48 L397.71,188.21 L399.28,187.94 L400.86,187.67 L402.43,187.41 L404.00,187.14 L405.58,186.88 L407.15,186.61 L408.72,186.35 L410.29,186.09 L411.87,185.83 L413.44,185.58 L415.01,185.32 L416.58,185.07 L418.16,184.81 L419.73,184.56 L421.30,184.31 L422.87,184.06 L424.45,183.81 L426.02,183.56 L427.59,183.32 L429.16,183.07 L430.74,182.83 L432.31,182.58 L433.88,182.34 L435.45,182.10 L437.03,181.86 L438.60,181.62 L440.17,181.38 L441.74,181.14 L443.32,180.91 L444.89,180.67 L446.46,180.43 L448.04,180.20 L449.61,179.97 L451.18,179.73 L452.76,179.50 L454.33,179.27 L455.90,179.04 L457.48,178.81 L459.05,178.58 L460.62,178.35 L462.20,178.12 L463.77,177.90 L465.35,177.67 L466.92,177.44 L468.50,177.22 L470.07,176.99 L471.65,176.77 L473.22,176.54 L474.80,176.32 L476.37,176.10 L477.95,175.87 L479.52,175.65 L481.10,175.43 L482.68,175.21 L484.25,174.98 L485.83,174.76 L487.41,174.54 L488.99,174.32 L490.56,174.10 L492.14,173.88 L493.72,173.66 L495.30,173.44 L496.88,173.22 L498.46,173.00 L500.03,172.79 L501.61,172.57 L503.19,172.35 L504.77,172.13 L506.35,171.92 L507.93,171.70 L509.51,171.48 L511.09,171.27 L512.67,171.05 L514.25,170.84 L515.83,170.62 L517.41,170.41 L519.00,170.19 L520.58,169.98 L522.16,169.76 L523.74,169.55 L525.32,169.34 L526.90,169.12 L528.49,168.91 L530.07,168.70 L531.65,168.49 L533.23,168.28 L534.82,168.07 L536.40,167.85 L537.98,167.64 L539.57,167.43 L541.15,167.22 L542.74,167.01 L544.32,166.80 L545.90,166.60 L547.49,166.39 L549.07,166.18 L550.66,165.97 L552.24,165.76 L553.83,165.55 L555.41,165.35 L557.00,165.14 L558.58,164.93 L560.17,164.73 L561.75,164.52 L563.34,164.31 L564.92,164.11 L566.51,163.90 L568.10,163.70 L569.68,163.49 L571.27,163.29 L572.86,163.08 L574.44,162.88 L576.03,162.68 L577.62,162.47 L578.81,162.32 L580.00,162.17 L581.19,162.02 L582.38,161.86 L583.57,161.71 L584.76,161.56 L585.95,161.41 L587.14,161.26 L588.33,161.11 L589.52,160.96 L590.71,160.80 L591.90,160.65 L593.10,160.50 L594.29,160.35 L595.48,160.20 L596.67,160.05 L597.86,159.90 L599.05,159.75 L600.24,159.60 L601.43,159.45 L602.63,159.30 L603.82,159.15 L605.01,159.01 L606.20,158.86 L607.39,158.71 L608.58,158.56 L609.78,158.41 L610.97,158.26 L612.16,158.11 L613.35,157.96 L614.54,157.82 L615.74,157.67 L616.93,157.52 L618.12,157.37 L619.31,157.23 L620.51,157.08 L621.70,156.93 L622.89,156.78 L624.08,156.64 L625.28,156.49 L626.47,156.34 L627.66,156.20 L628.85,156.05 L630.05,155.90 L631.24,155.76 L632.43,155.61 L633.63,155.47 L634.82,155.32 L636.01,155.17 L637.20,155.03 L638.40,154.88 L639.59,154.74 L640.78,154.59 L641.98,154.45 L643.17,154.30 L644.36,154.16 L645.56,154.01 L646.75,153.87 L647.94,153.72 L649.14,153.58 L650.33,153.44 L651.52,153.29 L652.72,153.15 L653.91,153.00 L655.10,152.86 L656.30,152.72 L657.49,152.57 L658.68,152.43 L659.88,152.29 L661.07,152.14 L662.27,152.00 L663.46,151.86 L664.65,151.71 L665.85,151.57 L667.04,151.43 L668.23,151.29 L669.43,151.14 L670.62,151.00 L671.82,150.86 L673.01,150.72 L674.20,150.58 L675.40,150.43 L676.59,150.29 L677.79,150.15 L678.98,150.01 L680.17,149.87 L681.37,149.73 L682.56,149.59 L683.76,149.44 L684.95,149.30 L686.14,149.16 L687.34,149.02 L688.53,148.88 L689.73,148.74 L690.92,148.60 L692.11,148.46 L693.31,148.32 L694.50,148.18 L695.70,148.04 L696.89,147.90 L698.08,147.76 L699.28,147.62 L700.47,147.48 L701.67,147.34 L702.86,147.20 L704.06,147.06 L705.25,146.92 L706.44,146.78 L707.64,146.64 L708.83,146.51 L710.03,146.37 L711.22,146.23 L712.42,146.09 L713.61,145.95 L714.80,145.81 L716.00,145.67 L717.19,145.54 L718.39,145.40 L719.58,145.26 L720.77,145.12 L721.97,144.98 L723.16,144.84 L724.36,144.71 L725.55,144.57 L726.75,144.43 L727.94,144.29 L729.13,144.16 L730.33,144.02 L731.52,143.88 L732.72,143.75 L733.91,143.61 L735.10,143.47 L736.30,143.33 L737.49,143.20 L738.69,143.06 L739.88,142.92 L741.07,142.79 L742.27,142.65 L743.46,142.51 L744.66,142.38 L745.85,142.24 L747.04,142.11 L748.24,141.97 L749.43,141.83 L750.63,141.70 L751.82,141.56 L753.01,141.43 L754.21,141.29 L755.40,141.15 L756.59,141.02 L757.79,140.88 L758.98,140.75 L760.18,140.61 L761.37,140.48 L762.56,140.34 L763.76,140.21 L764.95,140.07 L766.14,139.94 L767.34,139.80 L768.53,139.67 L769.72,139.53 L770.92,139.40 L772.11,139.26 L773.30,139.13 L774.50,138.99 L775.69,138.86 L776.88,138.72 L778.08,138.59 L779.27,138.45 L780.46,138.32 L781.66,138.19 L782.85,138.05 L784.04,137.92 L785.24,137.78 L786.43,137.65 L787.62,137.52 L788.81,137.38 L790.01,137.25 L791.20,137.11 L792.39,136.98 L793.59,136.85 L794.78,136.71 L795.97,136.58 L797.56,136.40 L799.15,136.22 L800.74,136.05 L802.33,135.87 L803.92,135.69 L805.51,135.51 L807.10,135.34 L808.69,135.16 L810.28,134.98 L811.87,134.81 L813.46,134.63 L815.05,134.45 L816.63,134.27 L818.22,134.10 L819.81,133.92 L821.40,133.74 L822.99,133.57 L824.58,133.39 L826.17,133.22 L827.75,133.04 L829.34,132.86 L830.93,132.69 L832.52,132.51 L834.11,132.33 L835.69,132.16 L837.28,131.98 L838.87,131.81 L840.46,131.63 L842.04,131.46 L843.63,131.28 L845.22,131.10 L846.80,130.93 L848.39,130.75 L849.98,130.58 L851.56,130.40 L853.15,130.23 L854.74,130.05 L856.32,129.88 L857.91,129.70 L859.49,129.53 L861.08,129.35 L862.66,129.18 L864.25,129.00 L865.83,128.83 L867.42,128.65 L869.00,128.48 L870.59,128.30 L872.17,128.13 L873.76,127.95 L875.34,127.78 L876.93,127.60 L878.51,127.43 L879.70,127.30" fill="none" stroke="#ff00ff" stroke-width="4.2" stroke-linecap="round" stroke-linejoin="round"/>
<line x1="150.4" y1="78.3" x2="150.4" y2="740.6" stroke="#ff0000" stroke-width="3" stroke-dasharray="9 6.17"/>
<line x1="395.7" y1="78.3" x2="395.7" y2="740.6" stroke="#ff0000" stroke-width="3" stroke-dasharray="9 6.17"/>
<rect x="111.8" y="79.0" width="817.6" height="661.6" fill="none" stroke="#000" stroke-width="2.5"/>
<line x1="111.8" y1="608.36" x2="124.5" y2="608.36" stroke="#000" stroke-width="2.4"/>
<line x1="275.30" y1="740.6" x2="275.30" y2="728" stroke="#000" stroke-width="2.4"/>
<line x1="111.8" y1="475.92" x2="124.5" y2="475.92" stroke="#000" stroke-width="2.4"/>
<line x1="438.70" y1="740.6" x2="438.70" y2="728" stroke="#000" stroke-width="2.4"/>
<line x1="111.8" y1="343.48" x2="124.5" y2="343.48" stroke="#000" stroke-width="2.4"/>
<line x1="602.10" y1="740.6" x2="602.10" y2="728" stroke="#000" stroke-width="2.4"/>
<line x1="111.8" y1="211.04" x2="124.5" y2="211.04" stroke="#000" stroke-width="2.4"/>
<line x1="765.50" y1="740.6" x2="765.50" y2="728" stroke="#000" stroke-width="2.4"/>
<text transform="translate(98.4,752.70) scale(0.985,1)" text-anchor="end" class="n">0</text>
<text transform="translate(98.4,620.26) scale(0.985,1)" text-anchor="end" class="n">100</text>
<text transform="translate(98.4,487.82) scale(0.985,1)" text-anchor="end" class="n">200</text>
<text transform="translate(98.4,355.38) scale(0.985,1)" text-anchor="end" class="n">300</text>
<text transform="translate(98.4,222.94) scale(0.985,1)" text-anchor="end" class="n">400</text>
<text transform="translate(98.4,90.50) scale(0.985,1)" text-anchor="end" class="n">500</text>
<text transform="translate(274.50,784.8) scale(0.955,1)" text-anchor="middle" class="n">0.003</text>
<text transform="translate(437.90,784.8) scale(0.955,1)" text-anchor="middle" class="n">0.006</text>
<text transform="translate(601.30,784.8) scale(0.955,1)" text-anchor="middle" class="n">0.009</text>
<text transform="translate(764.70,784.8) scale(0.955,1)" text-anchor="middle" class="n">0.012</text>
<text transform="translate(928.10,784.8) scale(0.955,1)" text-anchor="middle" class="n">0.015</text>
<text x="341.9" y="849.9" class="t">Rotational angle θ (rad)</text>
<text transform="translate(27,554.7) rotate(-90)" x="0" y="0" class="t">Moment M (kN·m)</text>
<rect x="75.5" y="2.5" width="196.7" height="45.8" fill="#fff" stroke="#2d6800" stroke-width="3"/>
<text x="84.5" y="38.2" class="t">Linear stage</text>
<rect x="170.6" y="117.4" width="211.70000000000002" height="46.19999999999999" fill="#fff" stroke="#2d6800" stroke-width="3"/>
<text x="182.2" y="153.6" class="t">Elastic stage</text>
<rect x="505.8" y="458.3" width="356.40000000000003" height="43.69999999999999" fill="#fff" stroke="#2d6800" stroke-width="3"/>
<text x="512.9" y="492.7" class="t">Ultimate bearing stage</text>
<path d="M132.75,109.45 C160,110.5 178,102 177.1,80.1 C176.8,73 175.8,68.5 174.6,65.5" fill="none" stroke="#333" stroke-width="1.25"/>
<path d="M170.3,49.5 L169.7,66.4 L177.9,64.6 Z" fill="#000"/>
<rect x="707.6" y="567.6" width="204.3" height="144.2" fill="#fff" stroke="#555" stroke-width="1.6" rx="1"/>
<line x1="709.9" y1="593.3" x2="798.8" y2="593.3" stroke="#0000ff" stroke-width="4.6"/>
<line x1="712.4" y1="639.7" x2="796.3" y2="639.7" stroke="#ff0000" stroke-width="4.6"/>
<line x1="712.4" y1="686.1" x2="796.3" y2="686.1" stroke="#ff00ff" stroke-width="4.6"/>
<text x="805.2" y="606.3" class="t">300kN</text>
<text x="805.2" y="652.5" class="t">500kN</text>
<text x="805.2" y="698.8" class="t">700kN</text>
</svg>
</body></html>
